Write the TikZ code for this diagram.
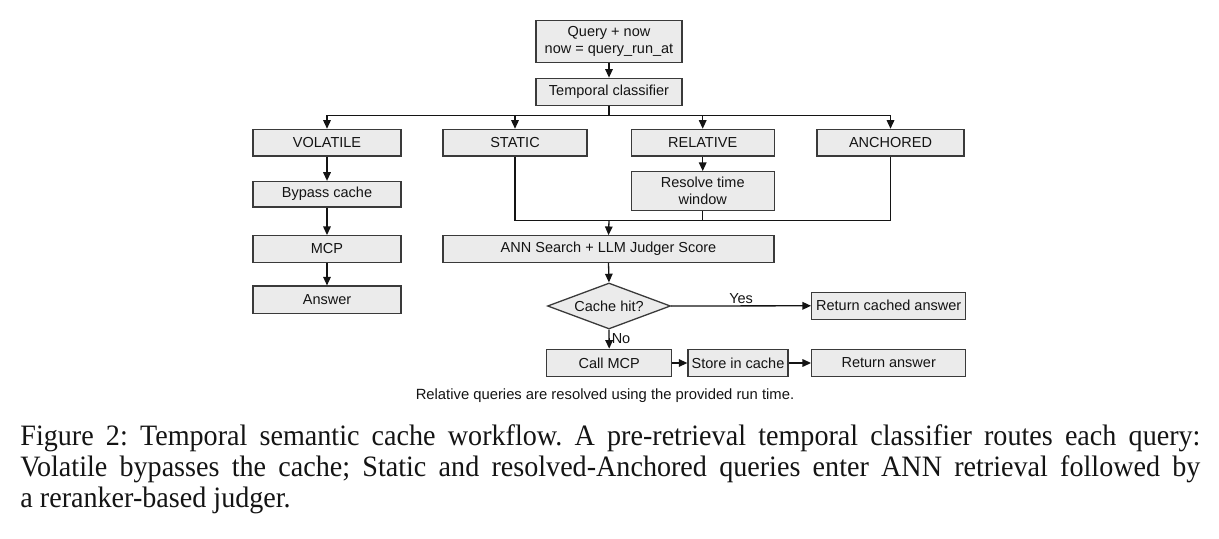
\documentclass[tikz,border=0pt]{standalone}
\usepackage{fontspec}
\usetikzlibrary{arrows.meta,shapes.geometric}
\newfontfamily\diagfont{Liberation Sans}
\newfontfamily\capfont{Liberation Serif}[FakeStretch=0.95]
\definecolor{boxfill}{HTML}{EBEBEB}
\definecolor{boxline}{HTML}{3A3A3A}
\definecolor{ink}{HTML}{141414}
\tikzset{
  stepbox/.style={draw=boxline, fill=boxfill, line width=0.65pt, inner sep=0pt,
    font=\diagfont\fontsize{7.25}{8.4}\selectfont, text=ink, align=center},
  decision/.style={diamond, draw=boxline, fill=boxfill, line width=0.65pt, inner sep=0pt,
    shape aspect=2.6, font=\diagfont\fontsize{7.25}{8.4}\selectfont, text=ink},
  link/.style={draw=ink, line width=0.65pt},
  arr/.style={link, -{Triangle[length=4.3pt,width=3.8pt]}},
  lbl/.style={font=\diagfont\fontsize{7.25}{8.4}\selectfont, text=ink, inner sep=1pt}
}
\begin{document}
\begin{tikzpicture}[x=0.5pt,y=-0.5pt]
\useasboundingbox (0,0) rectangle (1219,539);
% top
\node[stepbox, minimum width=73pt, minimum height=20.8pt] (q) at (609,41.5) {Query + now\\now = query\_run\_at};
\node[stepbox, minimum width=73pt, minimum height=13.7pt] (tc) at (609,92) {Temporal classifier};
% categories
\node[stepbox, minimum width=74pt, minimum height=13.3pt] (vol) at (327,142.7) {VOLATILE};
\node[stepbox, minimum width=72pt, minimum height=13.3pt] (sta) at (515,142.7) {STATIC};
\node[stepbox, minimum width=71.5pt, minimum height=13.3pt] (rel) at (702.7,142.7) {RELATIVE};
\node[stepbox, minimum width=73.5pt, minimum height=13.3pt] (anc) at (890.5,142.7) {ANCHORED};
% volatile column
\node[stepbox, minimum width=74pt, minimum height=12.7pt] (byp) at (327,194.2) {Bypass cache};
\node[stepbox, minimum width=74pt, minimum height=13.3pt] (mcp) at (327,249) {MCP};
\node[stepbox, minimum width=74pt, minimum height=13.6pt] (ans) at (327,299.7) {Answer};
% relative
\node[stepbox, minimum width=71.5pt, minimum height=19.5pt] (res) at (702.7,191.2) {Resolve time\\window};
% retrieval
\node[stepbox, minimum width=165.5pt, minimum height=13.3pt] (ann) at (608.5,249) {ANN Search + LLM Judger Score};
\node[decision, minimum width=61.5pt, minimum height=23pt] (hit) at (609,306) {Cache hit?};
\node[stepbox, minimum width=77pt, minimum height=13.5pt] (cached) at (888.7,305.8) {Return cached answer};
\node[stepbox, minimum width=62.5pt, minimum height=13.7pt] (call) at (609.2,363) {Call MCP};
\node[stepbox, minimum width=50pt, minimum height=13.7pt] (store) at (738,363) {Store in cache};
\node[stepbox, minimum width=77pt, minimum height=13.7pt] (ret) at (888.7,363) {Return answer};
% junction coordinates
\coordinate (br) at (609,115.5);
\coordinate (mj) at (609,220.3);
% connectors
\draw[arr] (q) -- (tc);
\draw[link] (tc.south) -- (br);
\draw[arr] (br) -| (vol.north);
\draw[arr] (br) -| (sta.north);
\draw[arr] (br) -| (rel.north);
\draw[arr] (br) -| (anc.north);
\draw[arr] (vol) -- (byp);
\draw[arr] (byp) -- (mcp);
\draw[arr] (mcp) -- (ans);
\draw[arr] (rel) -- (res);
\draw[link] (sta.south) |- (mj);
\draw[link] (anc.south) |- (mj);
\draw[link] (res.south) -- (res.south |- mj);
\draw[arr] (mj) -- (ann.north);
\draw[arr] (ann.south) -- (hit.north);
\draw[arr] (hit.east) -- node[lbl, above] {Yes} (cached.west);
\draw[arr] (hit.south) -- node[lbl, right, pos=0.45] {No} (call.north);
\draw[arr] (call) -- (store);
\draw[arr] (store) -- (ret);
% footnote
\node[font=\diagfont\fontsize{7.4}{8.5}\selectfont, text=ink, inner sep=0pt] (foot) at (605,396) {Relative queries are resolved using the provided run time.};
% caption
\node[anchor=north west, inner sep=0pt, text width=590pt, align=justify,
  font=\capfont\fontsize{14.8}{15.4}\selectfont\frenchspacing, text=ink] (cap) at (20,424.5)
  {Figure 2: Temporal semantic cache workflow. A pre-retrieval temporal classifier routes each query:\linebreak
   Volatile bypasses the cache; Static and resolved-Anchored queries enter ANN retrieval followed by\linebreak
   a reranker-based judger.};
\end{tikzpicture}
\end{document}
